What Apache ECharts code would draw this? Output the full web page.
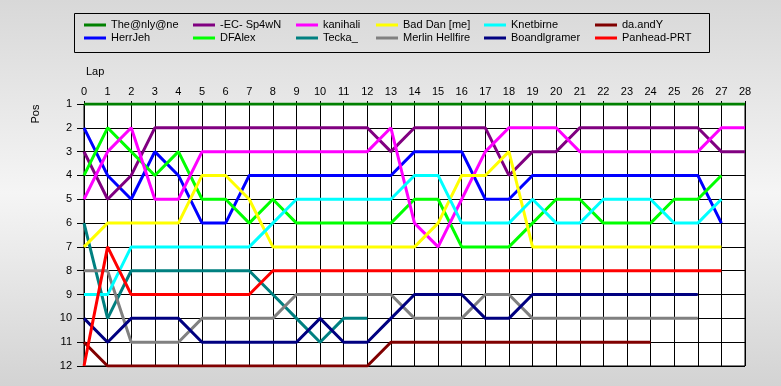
<!DOCTYPE html>
<html>
<head>
<meta charset="utf-8">
<script src="https://cdn.jsdelivr.net/npm/echarts@6/dist/echarts.min.js"></script>
<style>
html,body{margin:0;padding:0;}
#chart{width:781px;height:386px;}
</style>
</head>
<body>
<div id="chart"></div>
<script>
// Lap tick labels (x axis) and position tick labels (y axis)
var laps = ['0','1','2','3','4','5','6','7','8','9','10','11','12','13','14','15','16','17','18','19','20','21','22','23','24','25','26','27','28'];
var positions = [1,2,3,4,5,6,7,8,9,10,11,12];

// Driver names
var names = ['The@nly@ne','HerrJeh','-EC- Sp4wN','DFAlex','kanihali','Tecka_','Bad Dan [me]','Merlin Hellfire','Knetbirne','Boandlgramer','da.andY','Panhead-PRT'];

// Position per lap (index = lap)
var theOnly   = [1,1,1,1,1,1,1,1,1,1,1,1,1,1,1,1,1,1,1,1,1,1,1,1,1,1,1,1,1];
var herrJeh   = [2,4,5,3,4,6,6,4,4,4,4,4,4,4,3,3,3,5,5,4,4,4,4,4,4,4,4,6];
var sp4wn     = [3,5,4,2,2,2,2,2,2,2,2,2,2,3,2,2,2,2,4,3,3,2,2,2,2,2,2,3,3];
var dfAlex    = [4,2,3,4,3,5,5,6,5,6,6,6,6,6,5,5,7,7,7,6,5,5,6,6,6,5,5,4];
var kanihali  = [5,3,2,5,5,3,3,3,3,3,3,3,3,2,6,7,5,3,2,2,2,3,3,3,3,3,3,2,2];
var tecka     = [6,10,8,8,8,8,8,8,9,10,11,10,10];
var badDan    = [7,6,6,6,6,4,4,5,7,7,7,7,7,7,7,6,4,4,3,7,7,7,7,7,7,7,7,7];
var merlin    = [8,8,11,11,11,10,10,10,10,9,9,9,9,9,10,10,10,9,9,10,10,10,10,10,10,10,10];
var knetbirne = [9,9,7,7,7,7,7,7,6,5,5,5,5,5,4,4,6,6,6,5,6,6,5,5,5,6,6,5];
var boandl    = [10,11,10,10,10,11,11,11,11,11,10,11,11,10,9,9,9,10,10,9,9,9,9,9,9,9,9];
var daandy    = [11,12,12,12,12,12,12,12,12,12,12,12,12,11,11,11,11,11,11,11,11,11,11,11,11];
var panhead   = [12,7,9,9,9,9,9,9,8,8,8,8,8,8,8,8,8,8,8,8,8,8,8,8,8,8,8,8];

var seriesValues = [theOnly, herrJeh, sp4wn, dfAlex, kanihali, tecka, badDan, merlin, knetbirne, boandl, daandy, panhead];
var colors = ['#008000','#0000ff','#800080','#00ff00','#ff00ff','#008080','#ffff00','#808080','#00ffff','#000080','#800000','#ff0000'];

var FONT = '"Liberation Sans", Arial, sans-serif';

var chart = echarts.init(document.getElementById('chart'), null, {renderer:'canvas'});

var series = names.map(function(n, i){
  return {
    name: n, type: 'line', data: seriesValues[i],
    symbol: 'none', showSymbol: false,
    lineStyle: {width: 3, color: colors[i]},
    itemStyle: {color: colors[i]},
    emphasis: {disabled: true},
    animation: false
  };
});

// legend columns (column-major, 2 rows)
var colLeft = [84, 193, 296, 376, 484, 595];
var legends = [];
for (var c = 0; c < 6; c++) {
  legends.push({
    orient: 'vertical', left: colLeft[c], top: 18.5, padding: 0,
    itemGap: 0, itemWidth: 22, itemHeight: 3, itemTextGap: 5,
    icon: 'rect', selectedMode: false,
    data: [names[c*2], names[c*2+1]],
    textStyle: {color:'#000', fontSize: 11, fontFamily: FONT, lineHeight: 13}
  });
}

chart.setOption({
  backgroundColor: {
    type:'linear', x:0, y:0, x2:0, y2:1,
    colorStops:[{offset:0,color:'#d8d8d8'},{offset:0.5,color:'#f5f5f5'},{offset:1,color:'#d3d3d3'}]
  },
  animation: false,
  textStyle: {fontFamily: FONT},
  legend: legends,
  grid: {left: 84, right: 36, top: 104, bottom: 20, show: true, backgroundColor:'#ffffff', borderColor:'#000', borderWidth:1},
  xAxis: {
    type: 'category', position: 'top', boundaryGap: false, data: laps,
    axisLine: {lineStyle:{color:'#000', width:1}},
    axisTick: {length: 3, lineStyle:{color:'#000'}, interval: 0},
    axisLabel: {color:'#000', fontSize: 11, fontFamily: FONT, margin: 7, interval: 0},
    splitLine: {show: true, interval: 0, lineStyle:{color:'#000', width:1}}
  },
  yAxis: {
    type: 'value', inverse: true, min: 1, max: 12, interval: 1,
    axisLine: {show: true, lineStyle:{color:'#000', width:1}},
    axisTick: {show: true, length: 7, lineStyle:{color:'#000'}},
    axisLabel: {color:'#000', fontSize: 11, fontFamily: FONT, margin: 12},
    splitLine: {show: true, lineStyle:{color:'#000', width:1}}
  },
  graphic: [
    {type:'rect', shape:{x:74.5, y:13.5, width:635, height:39}, style:{fill:'none', stroke:'#000', lineWidth:1}, silent:true},
    {type:'text', left: 86, top: 66, style:{text:'Lap', fill:'#000', font:'11px ' + FONT}},
    {type:'text', x: 36, y: 114, rotation: Math.PI/2, style:{text:'Pos', fill:'#000', font:'11px ' + FONT, align:'center', verticalAlign:'middle'}}
  ],
  series: series
});
</script>
</body>
</html>
